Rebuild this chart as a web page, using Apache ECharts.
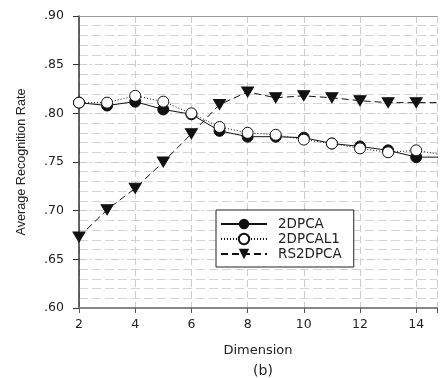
<!DOCTYPE html>
<html><head><meta charset="utf-8">
<script src="https://cdn.jsdelivr.net/npm/echarts@6/dist/echarts.min.js"></script>
<style>html,body{margin:0;padding:0;background:#fff}#c{width:440px;height:378px}</style>
</head><body><div id="c"></div>
<script>
const dims = [2,3,4,5,6,7,8,9,10,11,12,13,14,15];
const s2DPCA   = [0.811,0.808,0.812,0.804,0.799,0.782,0.776,0.776,0.775,0.769,0.766,0.762,0.755,0.755];
const s2DPCAL1 = [0.811,0.811,0.818,0.812,0.800,0.786,0.780,0.778,0.773,0.769,0.764,0.760,0.762,0.757];
const sRS2DPCA = [0.673,0.701,0.723,0.750,0.779,0.809,0.822,0.816,0.818,0.816,0.813,0.811,0.811,0.811];
const names = ['2DPCA','2DPCAL1','RS2DPCA'];
const F = 'DejaVu Sans, sans-serif';
const FN = 'Liberation Sans, Arial, sans-serif';
const toPairs = a => a.map((v,i)=>[dims[i],v]);
const chart = echarts.init(document.getElementById('c'));
chart.setOption({
  animation:false,
  grid:{left:79,top:16,bottom:70,right:0},
  legend:{
    left:216, top:210, orient:'vertical', itemWidth:46, itemHeight:13, itemGap:1,
    padding:[7,12,6,4], backgroundColor:'#fff', borderColor:'#222', borderWidth:1, borderRadius:0,
    textStyle:{fontFamily:F,fontSize:13.5,color:'#222',padding:[0,0,0,6]},
    data:names
  },
  xAxis:[{
    type:'value', min:2, max:14.74, interval:2,
    name:'Dimension', nameLocation:'middle', nameGap:36,
    nameTextStyle:{fontFamily:F,fontSize:13,color:'#222'},
    axisLine:{lineStyle:{color:'#888',width:2}},
    axisTick:{show:true,length:5,lineStyle:{color:'#555'}},
    axisLabel:{fontFamily:F,fontSize:12.5,color:'#222',margin:10,formatter:v=>(v%2===0)?String(v):''},
    splitLine:{show:true,lineStyle:{color:'#ccc',type:[7,4],width:1}}
  },{
    type:'value', min:2, max:14.74, position:'top',
    axisLine:{show:true,lineStyle:{color:'#999',width:1}},
    axisTick:{show:false}, axisLabel:{show:false}, splitLine:{show:false}
  }],
  yAxis:{
    type:'value', min:0.6, max:0.9, interval:0.05,
    name:'Average Recognition Rate', nameLocation:'middle', nameGap:51,
    nameTextStyle:{fontFamily:FN,fontSize:12.6,color:'#222'},
    axisLine:{show:true,lineStyle:{color:'#333',width:1.5}},
    axisTick:{show:true,length:6,lineStyle:{color:'#333'}},
    axisLabel:{fontFamily:F,fontSize:12.5,color:'#222',margin:15,formatter:v=>v.toFixed(2).replace(/^0/,'')},
    splitLine:{show:true,lineStyle:{color:'#ccc',type:[8,3,2,3],width:1}},
    minorTick:{show:false,splitNumber:5},
    minorSplitLine:{show:true,lineStyle:{color:'#d4d4d4',type:[9,4],width:1}}
  },
  graphic:[{type:'text',x:263,y:371,style:{text:'(b)',fontFamily:F,fontSize:14,fill:'#222',align:'center',verticalAlign:'middle'}}],
  series:[
    {name:names[0],type:'line',data:toPairs(s2DPCA),symbol:'circle',symbolSize:11,
     lineStyle:{color:'#111',width:1,type:'solid'},itemStyle:{color:'#111',borderColor:'#111'},z:3},
    {name:names[1],type:'line',data:toPairs(s2DPCAL1),symbol:'circle',symbolSize:11,
     lineStyle:{color:'#111',width:1,type:[1,2]},itemStyle:{color:'#fff',borderColor:'#111',borderWidth:1},z:4},
    {name:names[2],type:'line',data:toPairs(sRS2DPCA),symbol:'triangle',symbolRotate:180,symbolSize:[12,10],
     lineStyle:{color:'#111',width:1,type:[7,4]},itemStyle:{color:'#111',borderColor:'#111'},z:2}
  ]
});
</script></body></html>
